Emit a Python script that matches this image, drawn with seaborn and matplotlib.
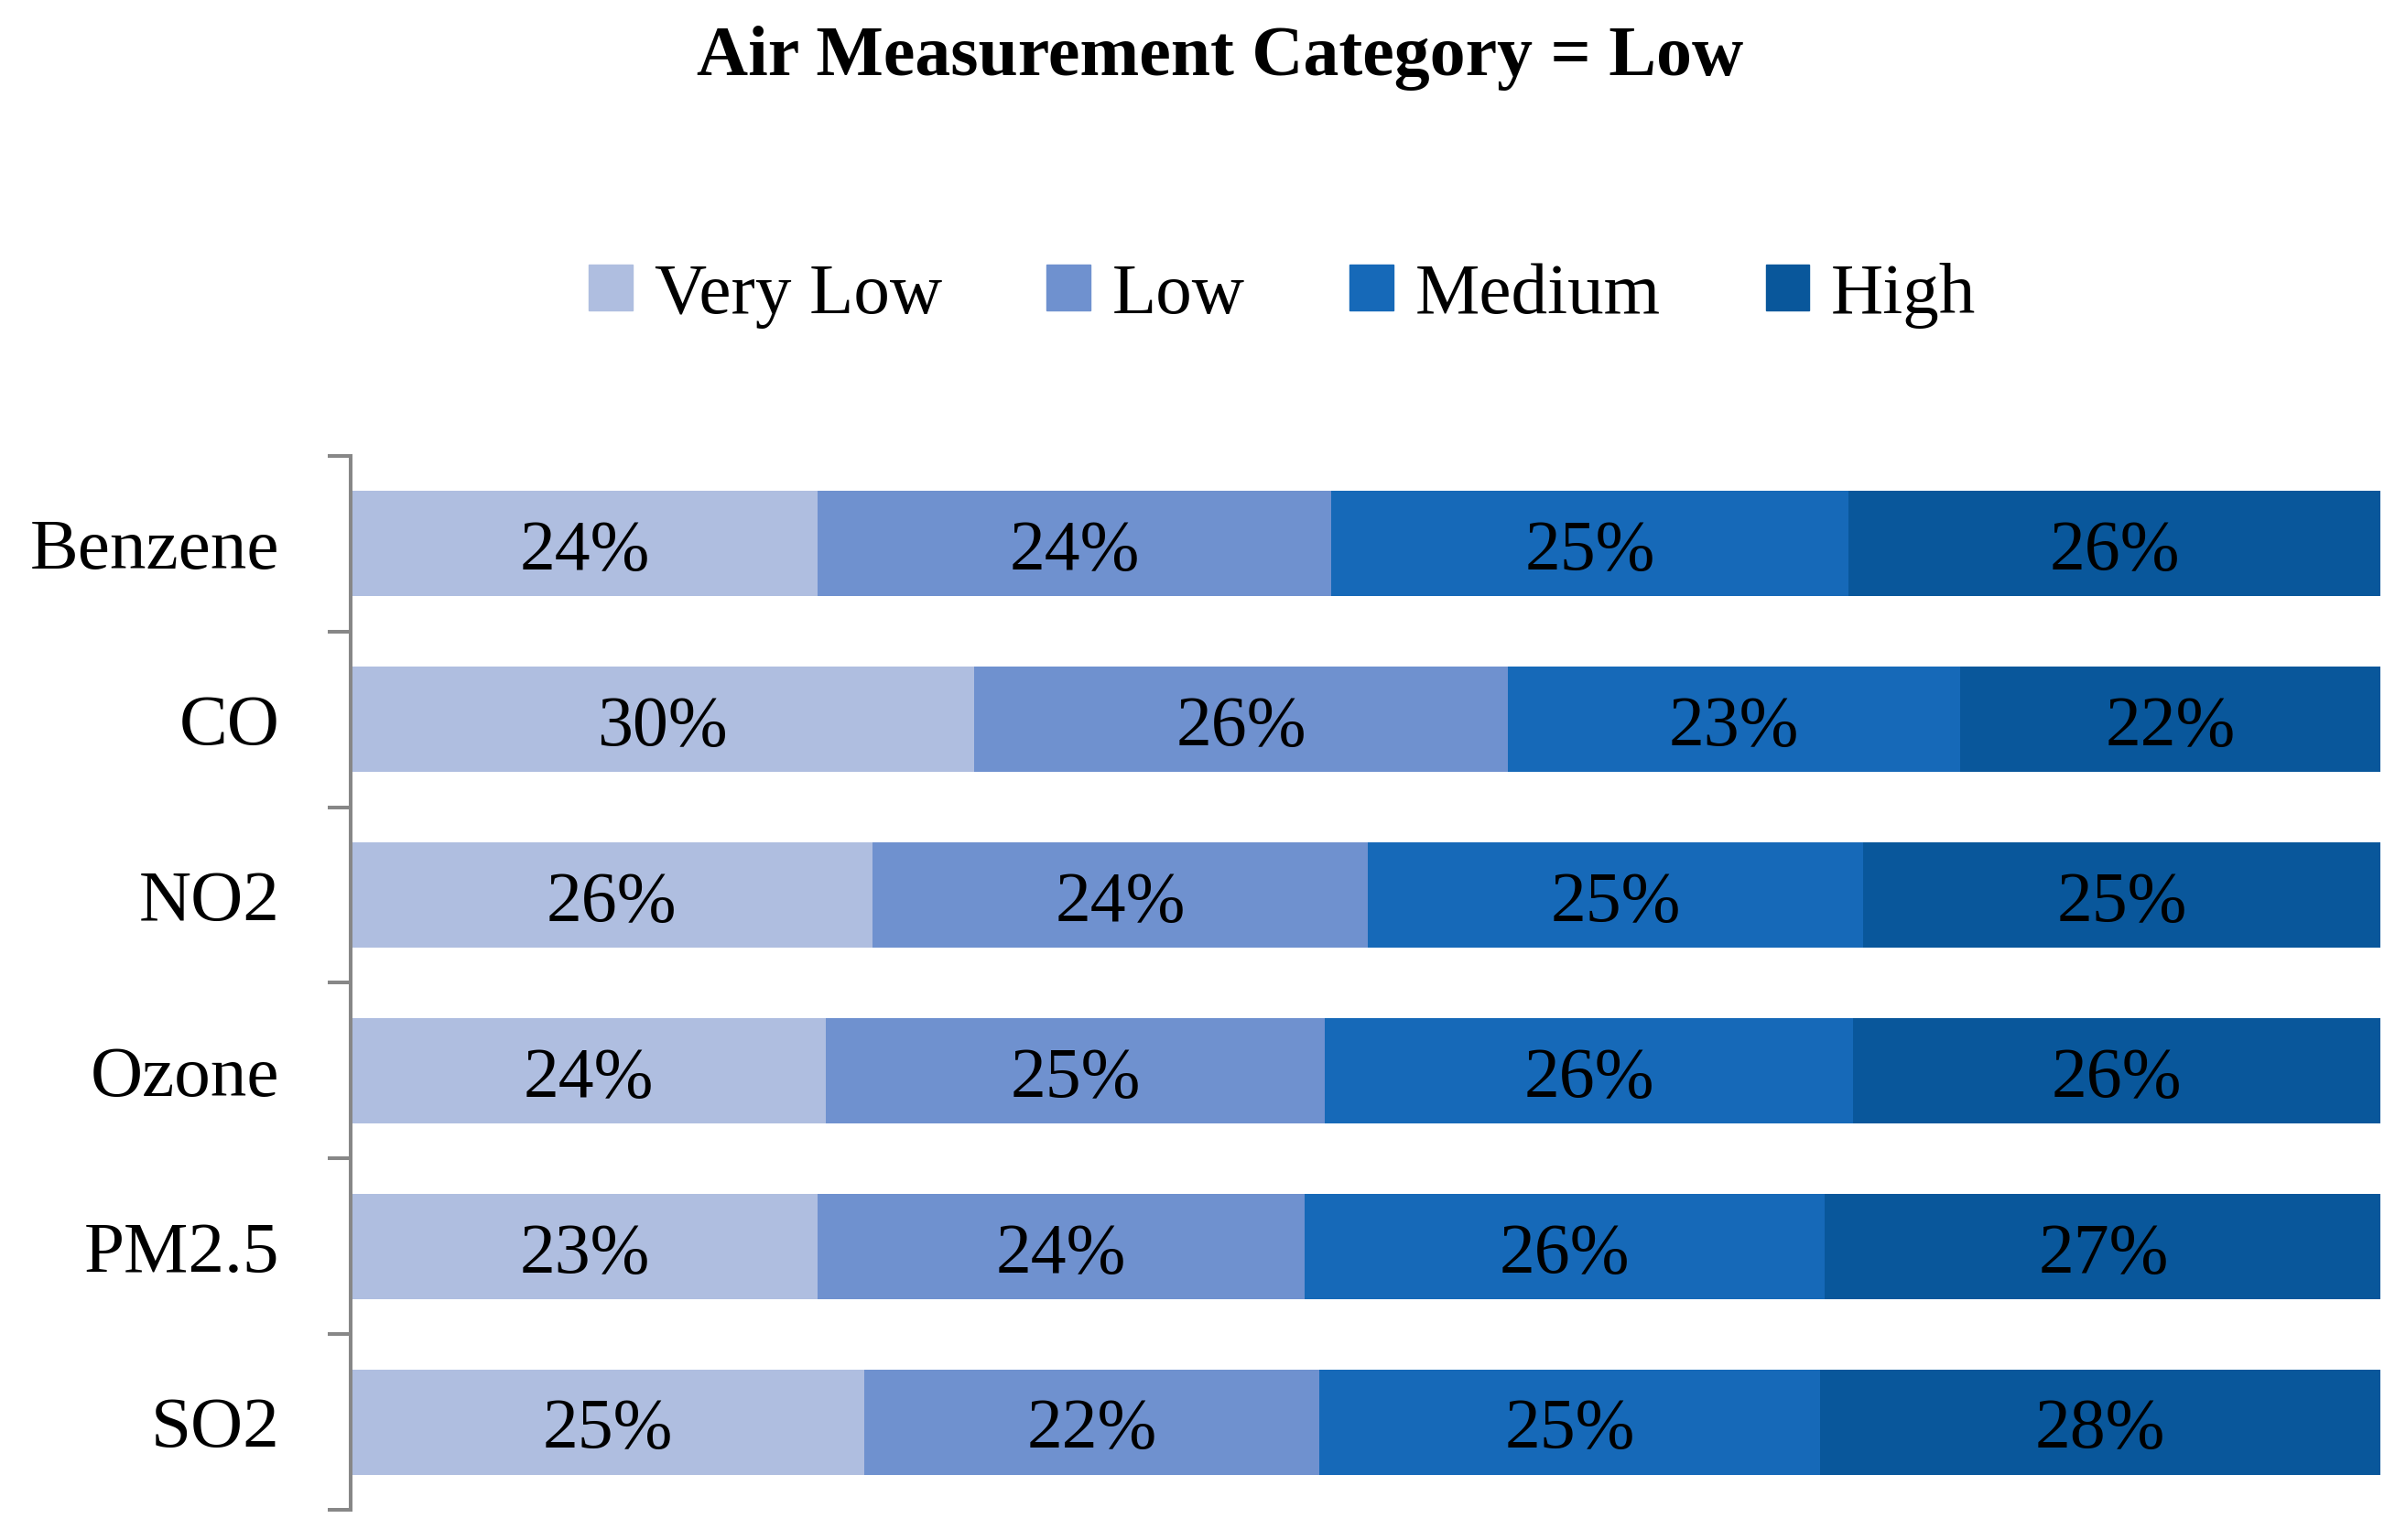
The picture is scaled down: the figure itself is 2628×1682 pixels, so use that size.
import numpy as np
import matplotlib.pyplot as plt
import pandas as pd
import seaborn as sns

# Pollutants (top to bottom) and the share of each level in a bar
pollutants = ["Benzene", "CO", "NO2", "Ozone", "PM2.5", "SO2"]
levels = ["Very Low", "Low", "Medium", "High"]
very_low = [0.230, 0.307, 0.257, 0.234, 0.230, 0.253]
low = [0.253, 0.263, 0.244, 0.246, 0.240, 0.224]
medium = [0.255, 0.223, 0.244, 0.260, 0.256, 0.247]
high = [0.262, 0.207, 0.255, 0.260, 0.275, 0.276]

# data labels as printed on the chart
very_low_lbl = ["24%", "30%", "26%", "24%", "23%", "25%"]
low_lbl = ["24%", "26%", "24%", "25%", "24%", "22%"]
medium_lbl = ["25%", "23%", "25%", "26%", "26%", "25%"]
high_lbl = ["26%", "22%", "25%", "26%", "27%", "28%"]

colors = ["#AFBEE0", "#6F91CF", "#1669B8", "#09579B"]

sns.set_theme(style="white")
plt.rcParams["font.family"] = ["Liberation Serif", "DejaVu Serif"]
plt.rcParams["text.color"] = "black"
plt.rcParams["ytick.labelcolor"] = "black"

df = pd.DataFrame({"pollutant": pollutants, "Very Low": very_low, "Low": low,
                   "Medium": medium, "High": high})
cum = df[levels].cumsum(axis=1)
labels = {"Very Low": very_low_lbl, "Low": low_lbl, "Medium": medium_lbl, "High": high_lbl}

fig = plt.figure(figsize=(26.28, 16.82), dpi=100)
ax = fig.add_axes([0.1459, 0.0196, 0.9894 - 0.1459, 0.704 - 0.0196])

# draw cumulative bars from the right-most level backwards so they stack
for lvl, col in reversed(list(zip(levels, colors))):
    sns.barplot(x=cum[lvl], y=df["pollutant"], color=col, width=0.6,
                saturation=1, ax=ax, orient="h", linewidth=0)

for lvl in levels:
    centers = cum[lvl] - df[lvl] / 2
    for i, (c, t) in enumerate(zip(centers, labels[lvl])):
        ax.text(c, i + 0.05, t, ha="center", va="center", fontsize=56, color="black")

ax.set_xlim(0, 1)
ax.set_ylim(len(pollutants) - 0.5, -0.5)
ax.set_xlabel("")
ax.set_ylabel("")
ax.set_xticks([])
ax.set_yticks(range(len(pollutants)))
ax.set_yticklabels(pollutants, fontsize=57, color="black")
ax.set_yticks(np.arange(-0.5, len(pollutants)), minor=True)
ax.tick_params(axis="y", which="major", length=0, pad=56)
ax.tick_params(axis="y", which="minor", length=18, width=2.9, color="#878787", left=True)
for side in ["top", "right", "bottom"]:
    ax.spines[side].set_visible(False)
ax.spines["left"].set_color("#878787")
ax.spines["left"].set_linewidth(2.9)

handles = [plt.Rectangle((0, 0), 1, 1, color=c) for c in colors]
fig.legend(handles, levels, loc="center", bbox_to_anchor=(0.533, 0.808), ncol=4,
           frameon=False, fontsize=57, handlelength=0.6, handleheight=0.6,
           handletextpad=0.3, columnspacing=1.45, labelcolor="black")

fig.text(0.507, 0.962, "Air Measurement Category = Low", ha="center", va="center",
         fontsize=56, fontweight="bold", color="black")

fig.savefig("out.png", dpi=100)
